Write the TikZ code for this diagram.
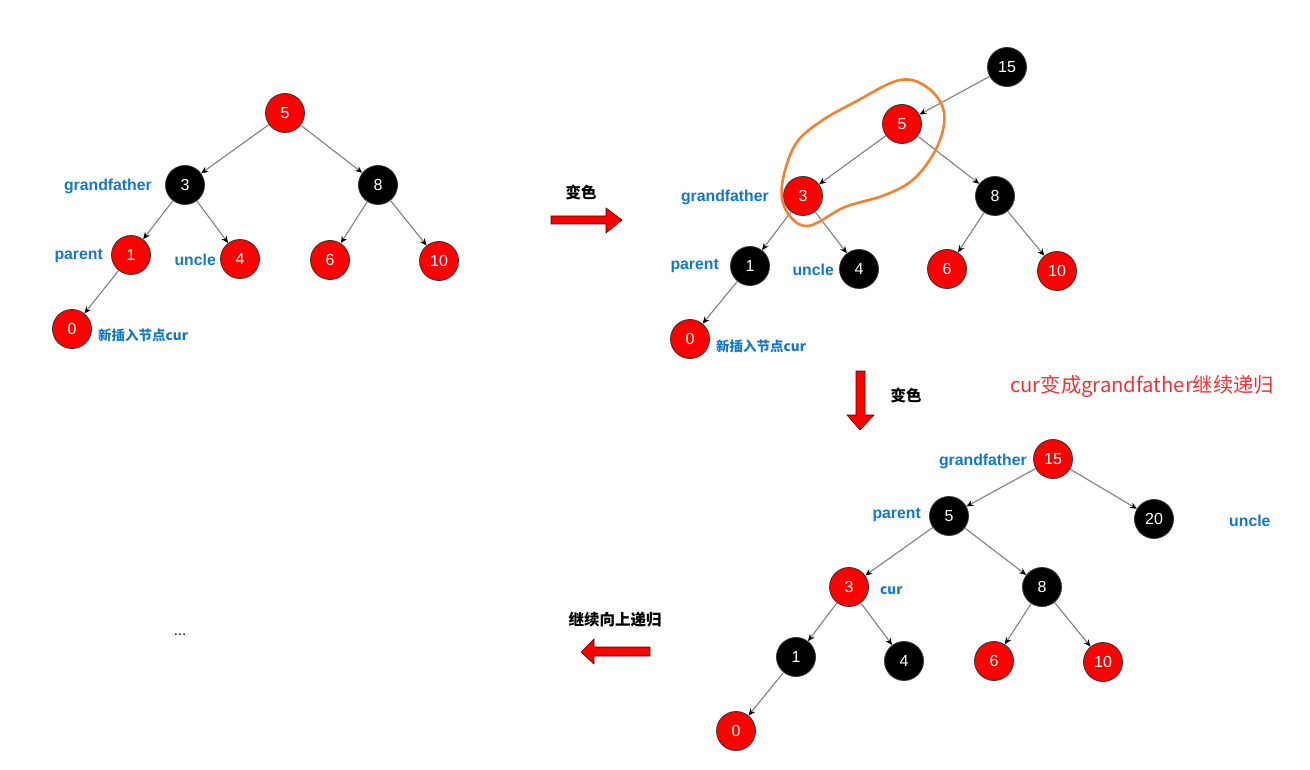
\documentclass[tikz,border=0pt]{standalone}
\usepackage{fontspec}
\setmainfont{Liberation Sans}
\newfontfamily\cjk{Noto Sans CJK SC}
\usetikzlibrary{arrows.meta}
\definecolor{lblue}{RGB}{20,120,200}
\definecolor{rnode}{RGB}{255,0,0}
\definecolor{loopc}{RGB}{240,130,50}
\definecolor{redtxt}{RGB}{245,50,50}
\tikzset{
  rb/.style={circle,draw=black!80,line width=0.8pt,fill=rnode,minimum size=39pt,inner sep=0pt,text=white,font=\fontsize{16}{18}\selectfont},
  bb/.style={rb,fill=black},
  edge/.style={draw=black!50,line width=1.1pt,-{Stealth[length=7pt,width=6pt,black]}},
  lbl/.style={text=lblue,font=\fontsize{15.8}{17}\selectfont\bfseries,inner sep=0pt},
  slbl/.style={text=lblue,font=\cjk\fontsize{13.5}{15}\selectfont\bfseries,inner sep=0pt},
  blk/.style={font=\cjk\fontsize{15.5}{17}\selectfont\bfseries,inner sep=0pt},
  barrow/.style={fill=rnode,draw=black!70!red,line width=0.6pt},
}
\begin{document}
\begin{tikzpicture}[x=1pt,y=-1pt]
\useasboundingbox (0,0) rectangle (1310,770);
\fill[white] (0,0) rectangle (1310,770);
% ---------- tree 1 ----------
\node[rb] (a5) at (285,113) {5};
\node[bb] (a3) at (185,185) {3};
\node[bb] (a8) at (378,185) {8};
\node[rb] (a1) at (131,255) {1};
\node[rb] (a4) at (240,259) {4};
\node[rb] (a6) at (330,260) {6};
\node[rb] (a10) at (439,261) {10};
\node[rb] (a0) at (72,329) {0};
\foreach \p/\c in {a5/a3,a5/a8,a3/a1,a3/a4,a8/a6,a8/a10,a1/a0}
  \draw[edge] (\p) -- (\c);
\node[lbl,anchor=east] (ag) at (152,186) {grandfather};
\node[lbl,anchor=east] (ap) at (103,256) {parent};
\node[lbl,anchor=east] (au) at (216,260) {uncle};
\node[slbl,anchor=west] (ac) at (98,335) {新插入节点cur};
% arrow right
\node[blk] (t1) at (581,193) {变色};
\path[barrow] (551,216) -- (606,216) -- (606,208) -- (622,220) -- (606,233) -- (606,224) -- (551,224) -- cycle;
% ---------- tree 2 ----------
\node[bb] (b15) at (1007,67) {15};
\node[rb] (b5) at (902,124) {5};
\node[rb] (b3) at (803,196) {3};
\node[bb] (b8) at (995,196) {8};
\node[bb] (b1) at (750,266) {1};
\node[bb] (b4) at (859,269) {4};
\node[rb] (b6) at (947,269) {6};
\node[rb] (b10) at (1057,271) {10};
\node[rb] (b0) at (690,339) {0};
\foreach \p/\c in {b15/b5,b5/b3,b5/b8,b3/b1,b3/b4,b8/b6,b8/b10,b1/b0}
  \draw[edge] (\p) -- (\c);
\node[lbl,anchor=east] (bg) at (769,197) {grandfather};
\node[lbl,anchor=east] (bp) at (719,266) {parent};
\node[lbl,anchor=east] (bu) at (834,270) {uncle};
\node[slbl,anchor=west] (bc) at (716,346) {新插入节点cur};
\draw[loopc,line width=2.6pt,line join=round] plot[smooth cycle,tension=0.6] coordinates
  {(900,80) (928,88) (944,112) (938,145) (915,178) (885,195) (845,207) (808,226) (787,212) (782,185) (795,145) (820,122) (855,102)};
% arrow down
\path[barrow] (856,371) -- (865,371) -- (865,415) -- (874,415) -- (860,430) -- (847,415) -- (856,415) -- cycle;
\node[blk] (t2) at (906,396) {变色};
\node[text=redtxt,font=\cjk\fontsize{20.3}{22}\selectfont,anchor=west,inner sep=0pt] (rt) at (1010,386) {cur变成grandfather继续递归};
% ---------- tree 3 ----------
\node[rb] (c15) at (1053,459) {15};
\node[bb] (c5) at (949,516) {5};
\node[bb] (c20) at (1154,519) {20};
\node[rb] (c3) at (849,587) {3};
\node[bb] (c8) at (1042,587) {8};
\node[bb] (c1) at (796,657) {1};
\node[bb] (c4) at (904,661) {4};
\node[rb] (c6) at (994,661) {6};
\node[rb] (c10) at (1103,662) {10};
\node[rb] (c0) at (736,731) {0};
\foreach \p/\c in {c15/c5,c15/c20,c5/c3,c5/c8,c3/c1,c3/c4,c8/c6,c8/c10,c1/c0}
  \draw[edge] (\p) -- (\c);
\node[lbl,anchor=east] (cg) at (1027,461) {grandfather};
\node[lbl,anchor=east] (cp) at (921,515) {parent};
\node[lbl,anchor=west] (cu) at (1229,521) {uncle};
\node[slbl,anchor=west] (cc) at (880,591) {cur};
% arrow left
\node[blk] (t3) at (615,620) {继续向上递归};
\path[barrow] (650,647) -- (594,647) -- (594,639) -- (581,652) -- (594,664) -- (594,656) -- (650,656) -- cycle;
\node[font=\fontsize{15}{17}\selectfont,inner sep=0pt,anchor=base] (dots) at (180,635) {...};
\end{tikzpicture}
\end{document}
